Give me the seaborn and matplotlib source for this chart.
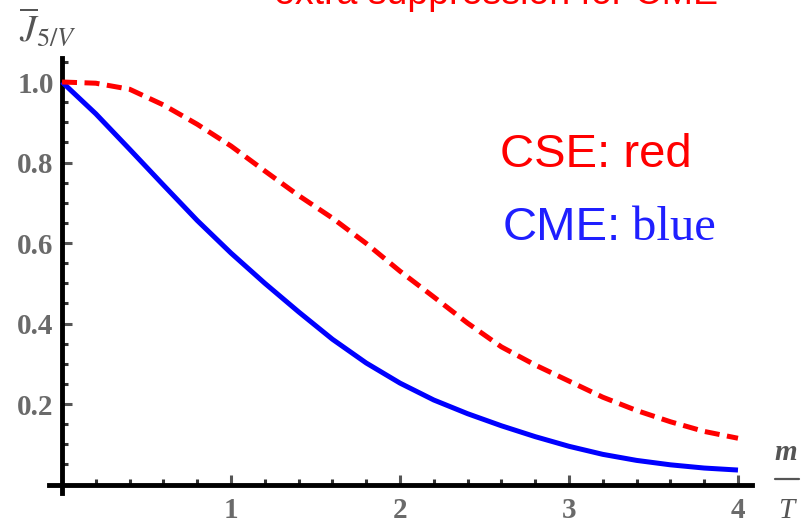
import numpy as np
import pandas as pd
import matplotlib
matplotlib.use("Agg")
import matplotlib.pyplot as plt
from matplotlib.ticker import MultipleLocator, FixedLocator
from matplotlib.lines import Line2D
import seaborn as sns

# ---- data ----
m_over_T = [0.0, 0.2, 0.4, 0.6, 0.8, 1.0, 1.2, 1.4, 1.6, 1.8, 2.0,
            2.2, 2.4, 2.6, 2.8, 3.0, 3.2, 3.4, 3.6, 3.8, 4.0]
cse_red = [1.0, 0.997, 0.982, 0.943, 0.895, 0.841, 0.779, 0.718, 0.662,
           0.599, 0.530, 0.466, 0.401, 0.342, 0.297, 0.257, 0.217, 0.184,
           0.156, 0.132, 0.115]
cme_blue = [1.0, 0.921, 0.833, 0.744, 0.656, 0.575, 0.500, 0.429, 0.361,
            0.302, 0.252, 0.210, 0.176, 0.146, 0.119, 0.095, 0.075, 0.060,
            0.049, 0.041, 0.036]
x_ticks = [1, 2, 3, 4]
x_ticklabels = ["1", "2", "3", "4"]
y_ticks = [0.2, 0.4, 0.6, 0.8, 1.0]
y_ticklabels = ["0.2", "0.4", "0.6", "0.8", "1.0"]

df = pd.DataFrame({"x": m_over_T, "cse": cse_red, "cme": cme_blue})

sns.set_theme(style="white")
plt.rcParams["mathtext.fontset"] = "stix"

W, H = 806, 523
fig = plt.figure(figsize=(W / 100, H / 100), dpi=100)
# axes placed so that data (0,0) sits at pixel (62, 484.5)
xmin, xmax = -0.08, 4.08
ymin, ymax = -0.022, 1.06
ax = fig.add_axes([48.5 / W, (H - 493.4) / H, 703 / W, (493.4 - 57.85) / H])
ax.set_facecolor("white")

sns.lineplot(data=df, x="x", y="cme", ax=ax, color="#0000ff", lw=3.6,
             solid_capstyle="butt", solid_joinstyle="round", zorder=3)
sns.lineplot(data=df, x="x", y="cse", ax=ax, color="#ff0000", lw=3.6,
             linestyle=(0, (3.0, 1.5)), dash_capstyle="butt", zorder=3)

ax.set_xlim(xmin, xmax)
ax.set_ylim(ymin, ymax)
ax.set_xlabel("")
ax.set_ylabel("")

for s in ["top", "right"]:
    ax.spines[s].set_visible(False)
for s in ["left", "bottom"]:
    ax.spines[s].set_position(("data", 0))
    ax.spines[s].set_color("black")
    ax.spines[s].set_linewidth(3.5)
    ax.spines[s].set_zorder(1)

ax.xaxis.set_major_locator(FixedLocator(x_ticks))
ax.yaxis.set_major_locator(FixedLocator(y_ticks))
ax.xaxis.set_minor_locator(MultipleLocator(0.2))
ax.yaxis.set_minor_locator(MultipleLocator(0.05))
ax.set_xticklabels(x_ticklabels)
ax.set_yticklabels(y_ticklabels)

for lab in ax.get_xticklabels() + ax.get_yticklabels():
    lab.set_fontfamily("Liberation Serif")
    lab.set_fontweight("bold")
    lab.set_fontsize(21)
    lab.set_color("#6a6a6a")

ax.tick_params(axis="both", which="major", direction="in", length=7,
               width=2.2, color="#555555", bottom=True, left=True)
ax.tick_params(axis="both", which="minor", direction="in", length=4,
               width=2.2, color="#333333", bottom=True, left=True)
ax.tick_params(axis="y", which="major", pad=6)
ax.tick_params(axis="x", which="major", pad=9)

# y-axis label (top-left)
fig.text(19 / W, 1 - 41 / H, r"$\overline{J}_{5/V}$", fontsize=27,
         color="#555555", ha="left", va="baseline")

# x-axis label m / T at right
fig.text(786 / W, 1 - 460 / H, "m", fontsize=21, color="#555555",
         family="Liberation Serif", style="italic", weight="bold",
         ha="center", va="baseline")
fig.add_artist(Line2D([775 / W, 799 / W], [1 - 479 / H, 1 - 479 / H],
                      transform=fig.transFigure, color="#555555", lw=1.6))
fig.text(786 / W, 1 - 518 / H, "T", fontsize=21, color="#555555",
         family="Liberation Serif", style="italic",
         ha="center", va="baseline")

# annotations
fig.text(500 / W, 1 - 167 / H, "CSE: red", fontsize=34, color="#ff0000",
         family="Liberation Sans", ha="left", va="baseline")
fig.text(503 / W, 1 - 240 / H, "CME:", fontsize=34, color="#1f1fff",
         family="Liberation Sans", ha="left", va="baseline")
fig.text(632 / W, 1 - 240 / H, "blue", fontsize=35, color="#1f1fff",
         family="Liberation Serif", ha="left", va="baseline")

# title cut off at the top edge
fig.text(496 / W, 1 - 4.5 / H, "extra suppression for CME", fontsize=27,
         color="#ff0000", family="Liberation Sans", ha="center",
         va="baseline")

fig.savefig("out.png", dpi=100, facecolor="white")
